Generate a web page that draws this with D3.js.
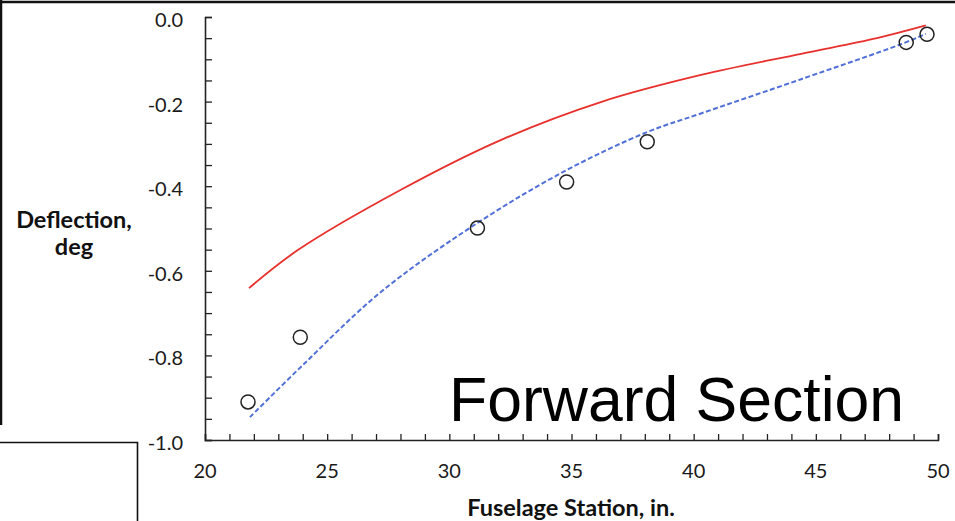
<!DOCTYPE html>
<html>
<head>
<meta charset="utf-8">
<script src="https://cdn.jsdelivr.net/npm/d3@7/dist/d3.min.js"></script>
<style>
  html, body { margin: 0; padding: 0; background: #fff; }
  svg { display: block; }
</style>
</head>
<body>
<svg id="chart" width="955" height="521"></svg>
<script>
// Computed deflection (solid red)
const computedX = [21.8, 23.8, 28.0, 32.1, 36.2, 40.3, 44.4, 47.5, 49.5];
const computedY = [-0.641, -0.551, -0.409, -0.291, -0.201, -0.137, -0.087, -0.050, -0.020];

// Fitted deflection (dashed blue)
const fitX = [21.84, 24.0, 27.2, 31.15, 34.8, 38.1, 40.3, 44.4, 48.5, 49.5];
const fitY = [-0.946, -0.823, -0.650, -0.487, -0.362, -0.272, -0.228, -0.147, -0.064, -0.040];

// Measured deflection (open circles)
const measuredX = [21.76, 23.9, 31.15, 34.8, 38.1, 48.7, 49.55];
const measuredY = [-0.910, -0.757, -0.499, -0.390, -0.295, -0.060, -0.041];

// Axis ticks
const xMajorTicks = [20, 25, 30, 35, 40, 45, 50];
const yMajorTicks = [0, -0.2, -0.4, -0.6, -0.8, -1.0];

const svg = d3.select("#chart");
const W = 955, H = 521;

const x = d3.scaleLinear().domain([20, 50]).range([205, 938]);
const y = d3.scaleLinear().domain([-1, 0]).range([440, 17]);

const labelFont = "Lato, 'Open Sans', sans-serif";

// Page frame lines
const frame = svg.append("g").attr("stroke", "#111").attr("fill", "none");
frame.append("line").attr("x1", 0).attr("x2", W).attr("y1", 2).attr("y2", 2).attr("stroke-width", 2.5);
frame.append("line").attr("x1", 1).attr("x2", 1).attr("y1", 0).attr("y2", 425).attr("stroke-width", 2.5);
frame.append("path").attr("d", "M0,442.5H137.5V521").attr("stroke-width", 1.6);

// Axes
const minorX = d3.range(20, 50.001, 1);
const minorY = d3.range(-1, 0.0001, 0.05);

const xAxis = d3.axisBottom(x).tickValues(minorX).tickSize(-6).tickFormat("");
const yAxis = d3.axisLeft(y).tickValues(minorY).tickSize(-7).tickFormat("");

const gx = svg.append("g").attr("transform", `translate(0,${y(-1)})`).call(xAxis);
const gy = svg.append("g").attr("transform", `translate(${x(20)},0)`).call(yAxis);
[gx, gy].forEach(g => {
  g.select(".domain").attr("stroke", "#222").attr("stroke-width", 1.6);
  g.selectAll(".tick line").attr("stroke", "#222").attr("stroke-width", 1.3);
});

// Tick labels
svg.append("g").selectAll("text").data(xMajorTicks).join("text")
  .attr("x", d => x(d)).attr("y", 478)
  .attr("text-anchor", "middle")
  .attr("font-family", labelFont).attr("font-size", 20).attr("fill", "#1a1a1a")
  .text(d => d);

const fmt = d3.format(".1f");
svg.append("g").selectAll("text").data(yMajorTicks).join("text")
  .attr("x", 183).attr("y", d => y(d) + 10)
  .attr("text-anchor", "end")
  .attr("font-family", labelFont).attr("font-size", 20).attr("fill", "#1a1a1a")
  .text(d => fmt(d).replace("\u2212", "-"));

// Axis titles
const yTitle = svg.append("text")
  .attr("text-anchor", "middle")
  .attr("font-family", labelFont).attr("font-weight", "bold").attr("font-size", 23.5).attr("fill", "#111");
yTitle.append("tspan").attr("x", 74).attr("y", 228).text("Deflection,");
yTitle.append("tspan").attr("x", 74).attr("y", 255).text("deg");

svg.append("text")
  .attr("x", 571).attr("y", 516)
  .attr("text-anchor", "middle")
  .attr("font-family", labelFont).attr("font-weight", "bold").attr("font-size", 23.5).attr("fill", "#111")
  .text("Fuselage Station, in.");

// Curves
const line = d3.line().x(d => x(d[0])).y(d => y(d[1])).curve(d3.curveCatmullRom.alpha(0.5));

svg.append("path")
  .datum(computedX.map((v, i) => [v, computedY[i]]))
  .attr("d", line)
  .attr("fill", "none").attr("stroke", "#e8302c").attr("stroke-width", 1.8);

svg.append("path")
  .datum(fitX.map((v, i) => [v, fitY[i]]))
  .attr("d", line)
  .attr("fill", "none").attr("stroke", "#5070d8").attr("stroke-width", 2)
  .attr("stroke-dasharray", "5,2.5");

// Measured points
svg.append("g").selectAll("circle")
  .data(measuredX.map((v, i) => [v, measuredY[i]]))
  .join("circle")
  .attr("cx", d => x(d[0])).attr("cy", d => y(d[1]))
  .attr("r", 7)
  .attr("fill", "none").attr("stroke", "#222").attr("stroke-width", 1.5);

// Section label
svg.append("text")
  .attr("x", 449).attr("y", 421)
  .attr("font-family", "'Liberation Sans', Arial, sans-serif")
  .attr("font-size", 62.5).attr("fill", "#000")
  .text("Forward Section");
</script>
</body>
</html>
